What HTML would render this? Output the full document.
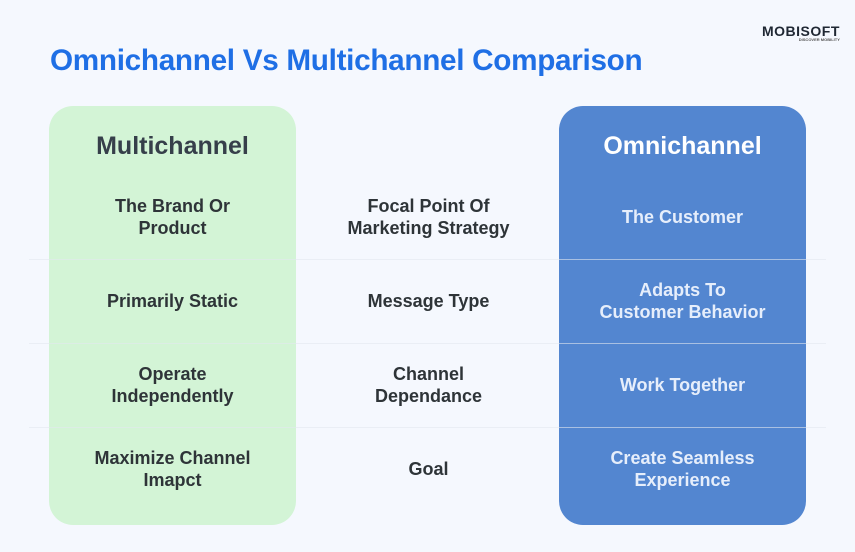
<!DOCTYPE html>
<html><head><style>
body{margin:0;width:855px;height:552px;background:#f5f8fe;font-family:"Liberation Sans",sans-serif;position:relative;overflow:hidden}
.t{position:absolute;left:50px;top:44px;font-size:29.7px;font-weight:bold;color:#1f6fe5;letter-spacing:-0.3px}
.p{position:absolute;top:106px;width:247px;height:419px;border-radius:24px}
.g{left:49px;background:#d3f4d6}
.b{left:559px;background:#5386d0}
.line{position:absolute;left:29px;width:797px;height:1px;background:#e3e8ee}
.c{position:absolute;width:247px;text-align:center;font-size:18px;font-weight:bold;line-height:22px;transform:translateY(-50%)}
.h{font-size:25px}
.l{left:49px;color:#2e3438}.m{left:305px;color:#2e3438}.r{left:559px;color:#e6eefb}
.logo{position:absolute;left:762px;top:23px;font-size:14px;font-weight:bold;color:#1f2733;letter-spacing:0.5px}
.logo small{display:block;font-size:4px;color:#555;text-align:right;letter-spacing:0;margin-top:-2px}
</style></head><body>
<div class="t">Omnichannel Vs Multichannel Comparison</div>
<div class="logo">MOBISOFT<small>DISCOVER MOBILITY</small></div>
<div class="p g"></div><div class="p b"></div>
<div class="line" style="top:259px;opacity:.6"></div><div class="line" style="top:343px;opacity:.6"></div><div class="line" style="top:427px;opacity:.6"></div>
<div class="c l h" style="top:146px;color:#363f4a">Multichannel</div>
<div class="c r h" style="top:146px;color:#fff">Omnichannel</div>
<div class="c l" style="top:217px">The Brand Or<br>Product</div>
<div class="c m" style="top:217px">Focal Point Of<br>Marketing Strategy</div>
<div class="c r" style="top:217px">The Customer</div>
<div class="c l" style="top:301px">Primarily Static</div>
<div class="c m" style="top:301px">Message Type</div>
<div class="c r" style="top:301px">Adapts To<br>Customer Behavior</div>
<div class="c l" style="top:385px">Operate<br>Independently</div>
<div class="c m" style="top:385px">Channel<br>Dependance</div>
<div class="c r" style="top:385px">Work Together</div>
<div class="c l" style="top:469px">Maximize Channel<br>Imapct</div>
<div class="c m" style="top:469px">Goal</div>
<div class="c r" style="top:469px">Create Seamless<br>Experience</div>
</body></html>
